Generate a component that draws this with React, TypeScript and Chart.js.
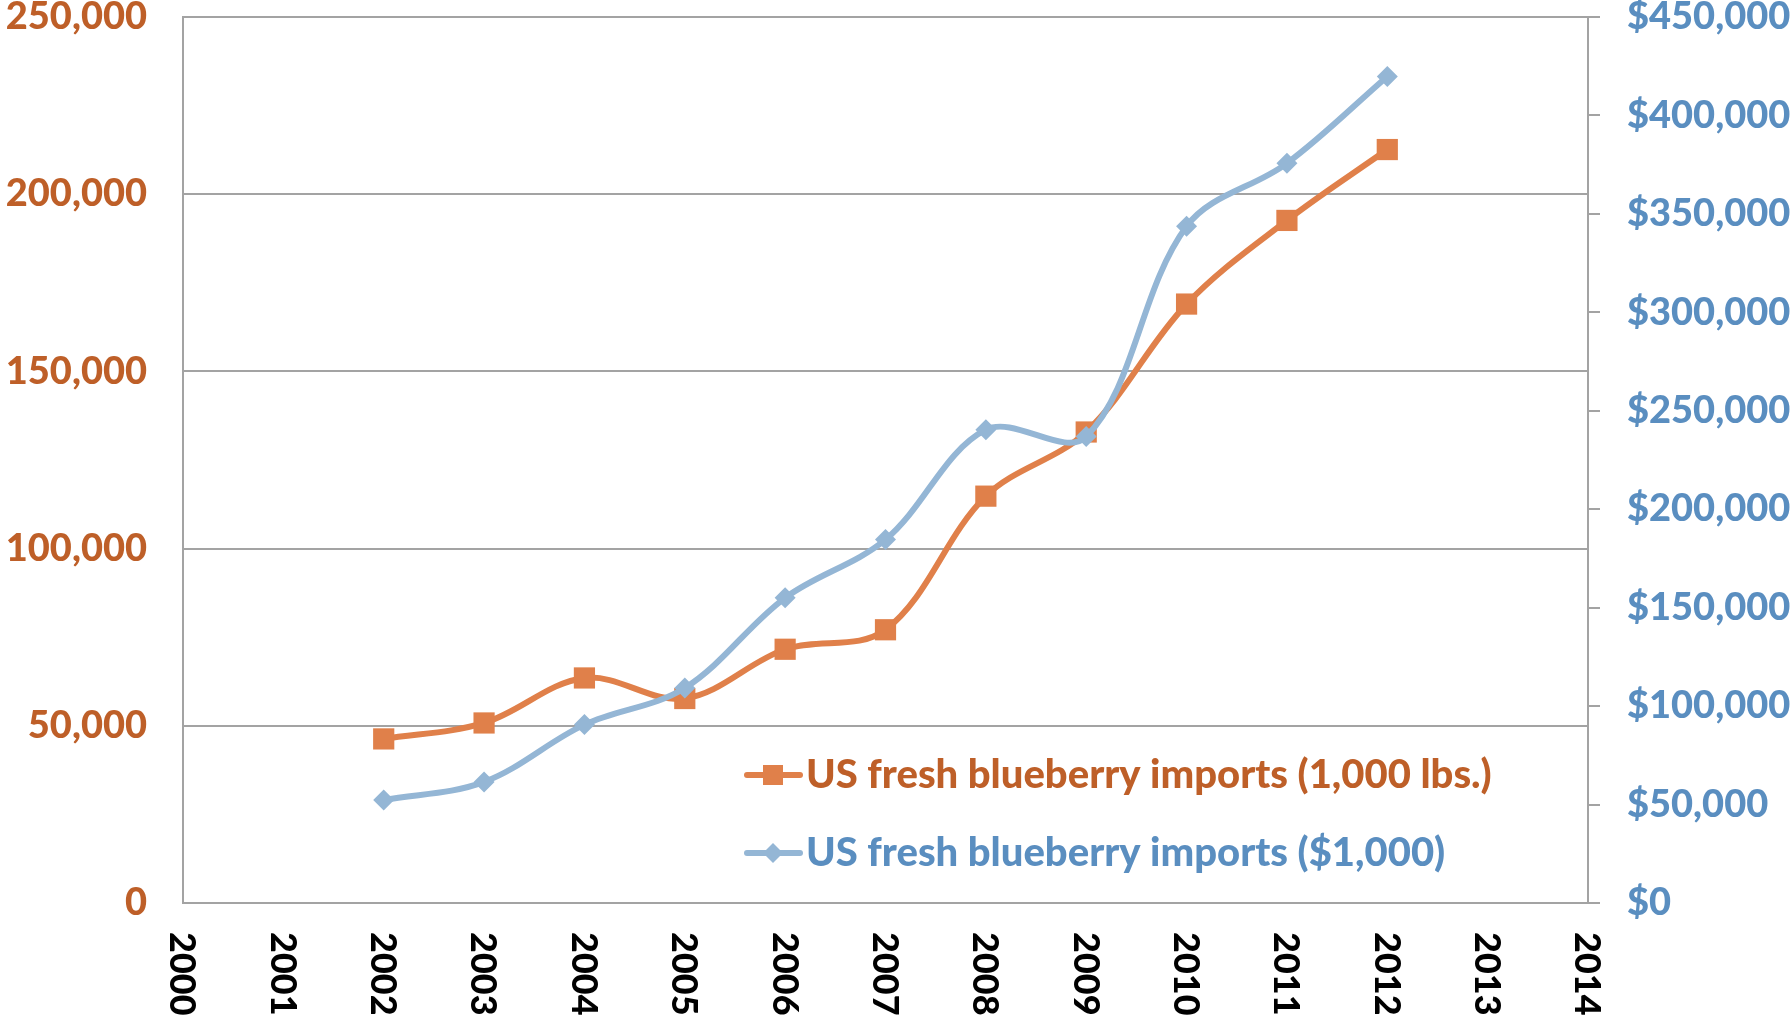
import React, { useEffect, useRef } from "react";
import { Chart, registerables } from "chart.js";

Chart.register(...registerables);

const years = ["2000", "2001", "2002", "2003", "2004", "2005", "2006", "2007", "2008", "2009", "2010", "2011", "2012", "2013", "2014"];
const volumeLabel = "US fresh blueberry imports (1,000 lbs.)";
const valueLabel = "US fresh blueberry imports ($1,000)";
const volumeData = [null, null, 46300, 50800, 63500, 57700, 71600, 77100, 114800, 132900, 169000, 192600, 212600, null, null];
const valueData = [null, null, 52300, 61500, 90600, 109200, 155000, 184600, 240400, 236900, 343700, 375700, 419800, null, null];
const leftTicks = { min: 0, max: 250000, step: 50000 };
const rightTicks = { min: 0, max: 450000, step: 50000 };

const ORANGE = "#E0804A";
const ORANGE_TEXT = "#BE5F28";
const BLUE = "#94B6D5";
const BLUE_TEXT = "#5A8EC0";
const GRID = "#a3a3a3";
const FONT = "Lato";
const WEIGHT = "900";

const xLabelPlugin = {
  id: "xLabels",
  afterDraw(chart: any) {
    const ctx = chart.ctx;
    const xs = chart.scales.x;
    const bottom = chart.chartArea.bottom;
    ctx.save();
    ctx.fillStyle = "#000";
    ctx.font = `${WEIGHT} 36px ${FONT}`;
    ctx.textAlign = "left";
    ctx.textBaseline = "middle";
    years.forEach((lab, i) => {
      const x = xs.getPixelForValue(i);
      ctx.save();
      ctx.translate(x, bottom + 29);
      ctx.rotate(Math.PI / 2);
      ctx.fillText(lab, 0, 1);
      ctx.restore();
    });
    ctx.restore();
  },
};

const legendPlugin = {
  id: "customLegend",
  afterDraw(chart: any) {
    const ctx = chart.ctx;
    const items = [
      { ds: chart.data.datasets[0], y: 775, text: ORANGE_TEXT, shape: "rect" },
      { ds: chart.data.datasets[1], y: 853, text: BLUE_TEXT, shape: "diamond" },
    ];
    ctx.save();
    items.forEach((it) => {
      ctx.strokeStyle = it.ds.borderColor;
      ctx.lineWidth = 6;
      ctx.lineCap = "round";
      ctx.beginPath();
      ctx.moveTo(747, it.y);
      ctx.lineTo(800, it.y);
      ctx.stroke();
      ctx.fillStyle = it.ds.borderColor;
      const cx = 773;
      if (it.shape === "rect") {
        ctx.fillRect(cx - 10, it.y - 10, 20, 20);
      } else {
        ctx.beginPath();
        ctx.moveTo(cx - 10, it.y);
        ctx.lineTo(cx, it.y - 10);
        ctx.lineTo(cx + 10, it.y);
        ctx.lineTo(cx, it.y + 10);
        ctx.closePath();
        ctx.fill();
      }
      ctx.fillStyle = it.text;
      ctx.font = `${WEIGHT} 40px ${FONT}`;
      ctx.textAlign = "left";
      ctx.textBaseline = "alphabetic";
      ctx.fillText(it.ds.label, 806, it.y + 13);
    });
    ctx.restore();
  },
};

export default function App() {
  const ref = useRef<HTMLCanvasElement>(null);
  useEffect(() => {
    document.body.style.margin = "0";
    const canvas = ref.current;
    if (!canvas) return;
    const chart = new Chart(canvas, {
      type: "line",
      data: {
        labels: years,
        datasets: [
          {
            label: volumeLabel,
            data: volumeData,
            borderColor: ORANGE,
            backgroundColor: ORANGE,
            borderWidth: 6,
            pointStyle: "rect",
            pointRadius: 15,
            pointBorderWidth: 0,
            pointBackgroundColor: ORANGE,
            tension: 0.35,
            yAxisID: "y",
            order: 1,
          },
          {
            label: valueLabel,
            data: valueData,
            borderColor: BLUE,
            backgroundColor: BLUE,
            borderWidth: 6,
            pointStyle: "rectRot",
            pointRadius: 10.5,
            pointBorderWidth: 0,
            pointBackgroundColor: BLUE,
            tension: 0.35,
            yAxisID: "y1",
            order: 0,
          },
        ],
      },
      options: {
        animation: false,
        responsive: false,
        maintainAspectRatio: false,
        layout: { autoPadding: false, padding: { top: 17, left: 0, right: 0, bottom: 0 } },
        plugins: { legend: { display: false }, tooltip: { enabled: false } },
        scales: {
          x: {
            type: "category",
            offset: false,
            grid: { display: false },
            border: { display: true, color: GRID, width: 2 },
            ticks: { display: false },
            afterFit: (s: any) => {
              s.height = 119;
              s.paddingLeft = 0;
              s.paddingRight = 0;
            },
          },
          y: {
            position: "left",
            min: leftTicks.min,
            max: leftTicks.max,
            ticks: {
              stepSize: leftTicks.step,
              color: ORANGE_TEXT,
              font: { family: FONT, size: 38, weight: WEIGHT },
              padding: 36,
              callback: (v: any) => Number(v).toLocaleString("en-US"),
            },
            grid: { color: GRID, lineWidth: 2, drawTicks: false },
            border: { display: true, color: GRID, width: 2 },
            afterFit: (s: any) => {
              s.width = 183;
              s.paddingTop = 0;
              s.paddingBottom = 0;
            },
          },
          y1: {
            position: "right",
            min: rightTicks.min,
            max: rightTicks.max,
            ticks: {
              stepSize: rightTicks.step,
              color: BLUE_TEXT,
              font: { family: FONT, size: 38, weight: WEIGHT },
              padding: 27,
              callback: (v: any) => "$" + Number(v).toLocaleString("en-US"),
            },
            grid: { drawOnChartArea: false, color: GRID, lineWidth: 2, drawTicks: true, tickLength: 12 },
            border: { display: true, color: GRID, width: 2 },
            afterFit: (s: any) => {
              s.width = 204;
              s.paddingTop = 0;
              s.paddingBottom = 0;
            },
          },
        },
      },
      plugins: [xLabelPlugin, legendPlugin],
    });
    return () => chart.destroy();
  }, []);
  return (
    <div style={{ width: 1792, height: 1022 }}>
      <canvas ref={ref} width={1792} height={1022} style={{ display: "block" }} />
    </div>
  );
}
